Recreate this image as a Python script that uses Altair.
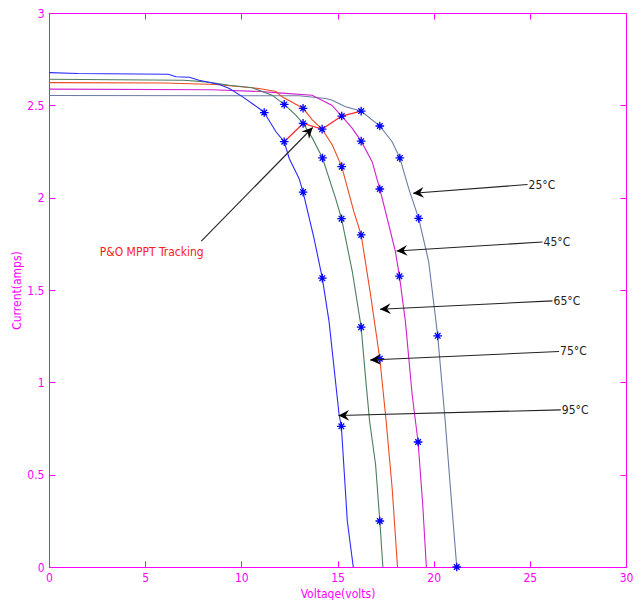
import math
import altair as alt
import pandas as pd

# ---------------- data ----------------
temps = ["25°C", "45°C", "65°C", "75°C", "95°C"]
colors = ["#6b7ca3", "#d020d0", "#ee4a22", "#4d7d5d", "#2a2aff"]

v_25 = [0, 13.0, 14.39, 14.73, 15.42, 16.23, 17.20, 17.84, 18.24, 18.7, 19.22, 19.74, 20.21, 20.6, 20.87, 21.2]
i_25 = [2.553, 2.552, 2.537, 2.528, 2.492, 2.469, 2.388, 2.303, 2.215, 2.05, 1.888, 1.654, 1.252, 0.789, 0.429, 0.0]

v_45 = [0, 8.5, 11.0, 12.12, 13.68, 14.7, 15.22, 15.77, 16.23, 16.8, 17.20, 17.67, 18.01, 18.22, 18.53, 18.88, 19.19, 19.43, 19.62]
i_45 = [2.588, 2.584, 2.575, 2.566, 2.555, 2.501, 2.442, 2.375, 2.306, 2.195, 2.047, 1.852, 1.708, 1.575, 1.330, 0.934, 0.677, 0.339, 0.0]

v_65 = [0, 6.0, 8.69, 10.57, 10.93, 11.8, 12.12, 13.21, 13.7, 14.20, 14.73, 15.22, 15.85, 16.23, 16.72, 17.20, 17.53, 17.84, 18.12]
i_65 = [2.623, 2.621, 2.613, 2.595, 2.591, 2.575, 2.546, 2.484, 2.42, 2.371, 2.285, 2.168, 1.924, 1.798, 1.474, 1.128, 0.789, 0.429, 0.0]

v_75 = [0, 7.0, 8.17, 9.38, 10.57, 11.6, 12.23, 12.83, 13.21, 13.7, 14.22, 14.9, 15.21, 15.77, 16.23, 16.46, 16.67, 16.98, 17.20, 17.36]
i_75 = [2.641, 2.636, 2.627, 2.609, 2.595, 2.555, 2.505, 2.447, 2.402, 2.321, 2.215, 1.996, 1.886, 1.600, 1.299, 1.023, 0.789, 0.555, 0.249, 0.0]

v_95 = [0, 1.5, 6.2, 6.6, 7.3, 7.8, 8.86, 9.38, 10.07, 10.93, 11.19, 11.8, 12.23, 12.49, 13.0, 13.21, 13.78, 14.21, 14.56, 15.08, 15.20, 15.51, 15.82]
i_95 = [2.677, 2.672, 2.668, 2.655, 2.652, 2.636, 2.613, 2.591, 2.546, 2.483, 2.461, 2.357, 2.303, 2.212, 2.104, 2.030, 1.780, 1.564, 1.330, 0.827, 0.762, 0.249, 0.0]

# star markers (sampled operating points)
sv_25 = [16.23, 17.20, 18.24, 19.22, 20.21, 21.2]
si_25 = [2.469, 2.388, 2.215, 1.888, 1.252, 0.0]
sv_45 = [15.22, 16.23, 17.20, 18.22, 19.19]
si_45 = [2.442, 2.306, 2.047, 1.575, 0.677]
sv_65 = [13.21, 14.20, 15.22, 16.23, 17.20]
si_65 = [2.484, 2.371, 2.168, 1.798, 1.128]
sv_75 = [12.23, 13.21, 14.22, 15.21, 16.23, 17.20]
si_75 = [2.505, 2.402, 2.215, 1.886, 1.299, 0.249]
sv_95 = [11.19, 12.23, 13.21, 14.21, 15.20]
si_95 = [2.461, 2.303, 2.030, 1.564, 0.762]

# P&O MPPT tracking path
mppt_v = [12.23, 13.21, 14.20, 15.22, 16.23]
mppt_i = [2.303, 2.402, 2.371, 2.442, 2.469]

# annotation arrows: tail -> tip
arrow_tail_v = [24.88, 25.66, 26.18, 26.52, 26.61]
arrow_tail_i = [2.071, 1.760, 1.441, 1.167, 0.851]
arrow_tip_v = [18.93, 18.07, 17.21, 16.69, 15.05]
arrow_tip_i = [2.024, 1.711, 1.396, 1.121, 0.820]

po_text = "P&O MPPT Tracking"
po_text_v, po_text_i = 5.34, 1.708
po_tail_v, po_tail_i = 7.92, 1.765
po_tip_v, po_tip_i = 13.71, 2.38

x_ticks = [0, 5, 10, 15, 20, 25, 30]
y_ticks = [0, 0.5, 1, 1.5, 2, 2.5, 3]

# ---------------- build tables ----------------
curve_v = [v_25, v_45, v_65, v_75, v_95]
curve_i = [i_25, i_45, i_65, i_75, i_95]
star_v = [sv_25, sv_45, sv_65, sv_75, sv_95]
star_i = [si_25, si_45, si_65, si_75, si_95]

rows = []
for t, vs, is_ in zip(temps, curve_v, curve_i):
    for k, (v, i) in enumerate(zip(vs, is_)):
        rows.append({"temp": t, "V": v, "I": i, "o": k})
curves = pd.DataFrame(rows)

stars = pd.DataFrame([{"V": v, "I": i} for vs, is_ in zip(star_v, star_i) for v, i in zip(vs, is_)])
mppt = pd.DataFrame({"V": mppt_v, "I": mppt_i, "o": range(len(mppt_v))})

W, H = 577, 554
PXV, PXI = W / 30.0, H / 3.0


def screen_angle(v0, i0, v1, i1):
    a = math.degrees(math.atan2(-(i1 - i0) * PXI, (v1 - v0) * PXV))
    return a % 360


arrows = pd.DataFrame({
    "V": arrow_tail_v + [po_tail_v],
    "I": arrow_tail_i + [po_tail_i],
    "V2": arrow_tip_v + [po_tip_v],
    "I2": arrow_tip_i + [po_tip_i],
})
arrows["ang"] = [screen_angle(a, b, c, d) for a, b, c, d in zip(arrows.V, arrows.I, arrows.V2, arrows.I2)]
labels = pd.DataFrame({"V": arrow_tail_v, "I": arrow_tail_i, "t": temps})
po = pd.DataFrame({"V": [po_text_v], "I": [po_text_i], "t": [po_text]})

MAG = "#ff00ff"
FONT = "Liberation Sans Narrow, DejaVu Sans Condensed, Liberation Sans, sans-serif"

xs = alt.Scale(domain=[0, 30], nice=False, zero=False)
ys = alt.Scale(domain=[0, 3], nice=False, zero=False)

X = alt.X("V:Q", scale=xs, axis=None)
Y = alt.Y("I:Q", scale=ys, axis=None)

x_axis = alt.Axis(values=x_ticks, offset=-6, domain=False, tickSize=6, tickColor=MAG,
                  labelColor=MAG, labelFont=FONT, labelFontSize=12, labelPadding=5,
                  title="Voltage(volts)", titleColor=MAG, titleFont=FONT, titleFontSize=12,
                  titleFontWeight="normal", titlePadding=5, grid=False, labelFlush=False)
y_axis = alt.Axis(values=y_ticks, offset=-6, domain=False, tickSize=6, tickColor=MAG,
                  labelColor=MAG, labelFont=FONT, labelFontSize=12, labelPadding=5,
                  labelExpr="'' + datum.value",
                  title="Current(amps)", titleColor=MAG, titleFont=FONT, titleFontSize=12,
                  titleFontWeight="normal", titlePadding=3, grid=False, labelFlush=False)

curve_layer = alt.Chart(curves).mark_line(strokeWidth=1.1).encode(
    x=alt.X("V:Q", scale=xs, axis=x_axis),
    y=alt.Y("I:Q", scale=ys, axis=y_axis),
    color=alt.Color("temp:N", scale=alt.Scale(domain=temps, range=colors), legend=None),
    detail="temp:N",
    order="o:Q",
)

mppt_layer = alt.Chart(mppt).mark_line(color="#ff2a2a", strokeWidth=1.3).encode(
    x=X, y=Y, order="o:Q")

star_path = "M-1,0L1,0M0,-1L0,1M-0.65,-0.65L0.65,0.65M-0.65,0.65L0.65,-0.65"
star_layer = alt.Chart(stars).mark_point(shape=star_path, filled=False, color="#0000ff",
                                         strokeWidth=1.3, size=75, opacity=1).encode(
    x=X, y=Y)

arrow_lines = alt.Chart(arrows).mark_rule(color="#222222", strokeWidth=1.1).encode(
    x=X, y=Y, x2="V2:Q", y2="I2:Q")

head_path = "M0,0L-1,-0.5L-0.65,0L-1,0.5Z"
arrow_heads = alt.Chart(arrows).mark_point(shape=head_path, filled=True, color="#000000",
                                           size=460, opacity=1, strokeWidth=0).encode(
    x=alt.X("V2:Q", scale=xs, axis=None), y=alt.Y("I2:Q", scale=ys, axis=None),
    angle=alt.Angle("ang:Q", scale=None))

label_layer = alt.Chart(labels).mark_text(align="left", baseline="middle", dx=1, font=FONT,
                                          fontSize=12, color="#222222").encode(
    x=X, y=Y, text="t:N")

po_layer = alt.Chart(po).mark_text(align="center", baseline="middle", font=FONT,
                                   fontSize=12, color="#ff2020").encode(
    x=X, y=Y, text="t:N")

# top / right tick marks (inward ticks on the box)
frame = alt.Chart(pd.DataFrame({"V": [0], "I": [0]})).mark_point(opacity=0).encode(
    x=alt.X("V:Q", scale=xs, axis=alt.Axis(orient="top", values=x_ticks, offset=-6, domain=False,
                                            tickSize=6, tickColor=MAG, labels=False, title=None, grid=False)),
    y=alt.Y("I:Q", scale=ys, axis=alt.Axis(orient="right", values=y_ticks, offset=-6, domain=False,
                                            tickSize=6, tickColor=MAG, labels=False, title=None, grid=False)),
)

chart = alt.layer(
    curve_layer, frame, mppt_layer, star_layer, arrow_lines, arrow_heads, label_layer, po_layer
).resolve_axis(x="independent", y="independent").properties(
    width=W, height=H,
    autosize=alt.AutoSizeParams(type="none"),
    padding={"left": 41, "top": 5, "right": 7, "bottom": 33},
    background="white",
).configure_view(stroke=MAG, strokeWidth=1)

chart.save("out.html", embed_options={"renderer": "svg", "actions": False})
